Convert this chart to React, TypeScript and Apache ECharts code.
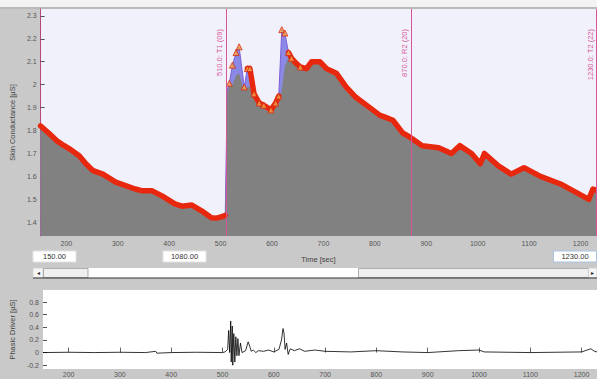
import React, { useEffect, useRef } from "react";
import * as echarts from "echarts";

// Skin conductance (total) samples: [time s, µS]
const scTime = [150, 165, 181, 195, 206, 225, 238, 252, 271, 296, 315, 334, 348, 367, 386, 411, 425, 444, 463, 482, 492, 504, 509,
  513, 517, 523, 530, 536, 542, 546, 552, 557, 565, 575, 584, 598, 607, 613, 619, 625, 632, 638, 646, 655, 667, 677, 693,
  706, 725, 744, 763, 790, 810, 821, 835, 854, 869, 892, 924, 949, 965, 988, 1005, 1013, 1040, 1065, 1090, 1122, 1161, 1193, 1216, 1224, 1230];
const scTotal = [1.82, 1.79, 1.756, 1.735, 1.72, 1.69, 1.655, 1.625, 1.61, 1.575, 1.56, 1.545, 1.537, 1.537, 1.515, 1.48, 1.47, 1.475, 1.45, 1.42, 1.418, 1.425, 1.43,
  1.98, 2.006, 2.085, 2.14, 2.165, 2.06, 1.99, 2.07, 2.07, 1.96, 1.92, 1.91, 1.89, 1.92, 1.95, 2.24, 2.225, 2.14, 2.115, 2.095, 2.077, 2.07, 2.1, 2.1,
  2.07, 2.05, 1.99, 1.945, 1.9, 1.866, 1.857, 1.845, 1.79, 1.77, 1.734, 1.725, 1.7, 1.734, 1.7, 1.655, 1.7, 1.646, 1.61, 1.638, 1.6, 1.567, 1.528, 1.5, 1.545, 1.54];

// Tonic level under the phasic peaks (elsewhere equal to total)
const tonicTime = [513, 517, 523, 530, 536, 542, 546, 552, 557, 565, 575, 584, 598, 607, 613, 619, 625, 632, 638, 646, 655];
const tonicValue = [1.97, 1.99, 2.0, 2.04, 2.05, 2.0, 1.97, 1.99, 1.99, 1.94, 1.91, 1.9, 1.88, 1.9, 1.92, 1.98, 2.08, 2.12, 2.105, 2.09, 2.075];

// Times where the thick red trace is absent (peak outlines only)
const peakOnlyTimes = [513, 517, 523, 530, 536, 542, 546, 619, 625];

// Triangle markers (onsets / peaks)
const triTimes = [517, 523, 530, 536, 546, 552, 557, 565, 575, 584, 598, 607, 613, 619, 625, 632, 638, 655];

// Event markers
const markerTimes = [510, 870, 1230];
const markerNames = ["510.0: T1 (09)", "870.0: R2 (20)", "1230.0: T2 (22)"];

// Phasic driver samples
const drvTime = [150, 200, 250, 300, 350, 370, 372, 400, 450, 500, 505, 510, 512, 514, 516, 517, 519, 520, 522, 524, 526, 528, 530, 532, 535, 538,
  545, 550, 553, 556, 560, 565, 570, 580, 590, 600, 610, 615, 618, 620, 622, 625, 628, 632, 640, 650, 660, 680, 700, 750, 800, 850, 900,
  960, 1000, 1010, 1100, 1200, 1218, 1225, 1230];
const drvValue = [0, 0.005, 0, 0.005, 0, 0.02, -0.01, 0, 0.005, 0, 0.01, 0.05, 0.35, 0.0, 0.5, -0.15, 0.42, -0.2, 0.3, -0.15, 0.25, -0.05, 0.22, -0.05, 0.15, 0,
  0.03, 0.17, 0.1, 0.02, 0.04, 0.0, 0.03, 0.02, 0.04, 0.01, 0.05, 0.2, 0.38, 0.3, 0.05, 0.15, -0.03, 0.06, 0.03, 0.06, 0.02, 0.04, 0.02, 0.01, 0.03, 0.01, 0,
  0.03, 0.04, 0.01, 0, 0.01, 0.06, 0.02, 0.01];

const xTicks = [200, 300, 400, 500, 600, 700, 800, 900, 1000, 1100, 1200];
const scTicks = [1.4, 1.5, 1.6, 1.7, 1.8, 1.9, 2.0, 2.1, 2.2, 2.3];
const drvTicks = [-0.2, 0, 0.2, 0.4, 0.6, 0.8];

const boxLabels = ["150.00", "1080.00", "1230.00"];

const FONT = "Liberation Sans, Arial, sans-serif";
const PINK = "#d9559a";

export default function App() {
  const ref = useRef<HTMLDivElement>(null);
  useEffect(() => {
    const chart = echarts.init(ref.current!, null, { renderer: "svg" });
    const total = scTime.map((t, i) => [t, scTotal[i]]);
    const tonic = scTime.map((t, i) => {
      const k = tonicTime.indexOf(t);
      return [t, k >= 0 ? tonicValue[k] : scTotal[i]];
    });
    const red = scTime.map((t, i) => [t, peakOnlyTimes.indexOf(t) >= 0 ? null : scTotal[i]]);
    const tri = triTimes.map((t) => [t, scTotal[scTime.indexOf(t)]]);
    const drv = drvTime.map((t, i) => [t, drvValue[i]]);
    const fmt = (v: number) => String(Number(v.toFixed(1)));
    const fmtX = (v: number) => String(v);
    const lbl = { fontSize: 7, color: "#555", fontFamily: FONT };

    const option: any = {
      animation: false,
      backgroundColor: "#c9c9c9",
      grid: [
        { left: 33, right: 1, top: 9, bottom: 143, show: true, backgroundColor: "#f1f1fb", borderWidth: 0 },
        { left: 33, right: 0, top: 290, bottom: 10, show: true, backgroundColor: "#ffffff", borderWidth: 0 },
      ],
      xAxis: [
        {
          gridIndex: 0, type: "value", min: 150, max: 1230,
          name: "Time [sec]", nameLocation: "middle", nameGap: 19,
          nameTextStyle: { fontSize: 7.5, color: "#444", fontFamily: FONT },
          axisLine: { show: false }, splitLine: { show: false },
          axisTick: { show: false },
          axisLabel: { ...lbl, margin: 4, customValues: xTicks, formatter: fmtX },
        },
        {
          gridIndex: 1, type: "value", min: 150, max: 1230,
          axisLine: { show: false }, splitLine: { show: false },
          axisTick: { show: true, inside: true, length: 5, lineStyle: { color: "#666" }, customValues: xTicks },
          axisLabel: { ...lbl, margin: 2, customValues: xTicks, formatter: fmtX },
        },
      ],
      yAxis: [
        {
          gridIndex: 0, type: "value", min: 1.34, max: 2.33,
          name: "Skin Conductance [\u00b5S]", nameLocation: "middle", nameGap: 17,
          nameTextStyle: { fontSize: 7.5, color: "#444", fontFamily: FONT },
          axisLine: { show: true, lineStyle: { color: "#b8487c", width: 1 } },
          splitLine: { show: false },
          axisTick: { show: true, inside: true, length: 4, lineStyle: { color: "#555" }, customValues: scTicks },
          axisLabel: { ...lbl, margin: 4, customValues: scTicks, formatter: fmt },
        },
        {
          gridIndex: 1, type: "value", min: -0.26, max: 0.99,
          name: "Phasic Driver [\u00b5S]", nameLocation: "middle", nameGap: 19,
          nameTextStyle: { fontSize: 7.5, color: "#444", fontFamily: FONT },
          axisLine: { show: false }, splitLine: { show: false },
          axisTick: { show: true, inside: true, length: 4, lineStyle: { color: "#555" }, customValues: drvTicks },
          axisLabel: { ...lbl, margin: 4, customValues: drvTicks, formatter: fmt },
        },
      ],
      series: [
        {
          type: "line", xAxisIndex: 0, yAxisIndex: 0, data: total, symbol: "none", z: 2,
          lineStyle: { color: "#7d5fd8", width: 1 },
          areaStyle: { color: "#8a8ae6", origin: "start", opacity: 1 },
        },
        {
          type: "line", xAxisIndex: 0, yAxisIndex: 0, data: tonic, symbol: "none", z: 3,
          lineStyle: { width: 0 },
          areaStyle: { color: "#818181", origin: "start", opacity: 1 },
        },
        {
          type: "line", xAxisIndex: 0, yAxisIndex: 0, data: red, symbol: "none", z: 4,
          connectNulls: false,
          lineStyle: { color: "#e8280e", width: 5.5, cap: "round", join: "round" },
          markLine: {
            silent: true, symbol: "none", z: 10,
            lineStyle: { color: PINK, width: 1, type: "solid" },
            label: {
              show: true, position: "insideEndTop", formatter: "{b}", color: PINK,
              fontSize: 7.5, fontFamily: FONT, distance: [16, 2], padding: [0, 4, 0, 0],
            },
            data: markerTimes.map((t, i) => ({ xAxis: t, name: markerNames[i] })),
          },
        },
        {
          type: "scatter", xAxisIndex: 0, yAxisIndex: 0, data: tri, symbol: "triangle", symbolSize: 6, z: 5,
          itemStyle: { color: "#f2a24a", borderColor: "#d42a10", borderWidth: 1 },
        },
        {
          type: "line", xAxisIndex: 1, yAxisIndex: 1, data: drv, symbol: "none",
          lineStyle: { color: "#000", width: 0.8 },
        },
      ],
      graphic: [
        { type: "rect", shape: { x: 0, y: 0, width: 597, height: 7 }, style: { fill: "#f3f3f3" }, silent: true },
        { type: "rect", shape: { x: 0, y: 7, width: 597, height: 2 }, style: { fill: "#b9b9b9" }, silent: true },
        // value boxes
        { type: "rect", shape: { x: 33, y: 251, width: 43, height: 11 }, style: { fill: "#fff", stroke: "#e2e2e2" } },
        { type: "text", x: 54.5, y: 256.5, style: { text: boxLabels[0], fontSize: 7.5, fill: "#333", fontFamily: FONT, align: "center", verticalAlign: "middle" } },
        { type: "rect", shape: { x: 163, y: 251, width: 43, height: 11 }, style: { fill: "#fff", stroke: "#e2e2e2" } },
        { type: "text", x: 184.5, y: 256.5, style: { text: boxLabels[1], fontSize: 7.5, fill: "#333", fontFamily: FONT, align: "center", verticalAlign: "middle" } },
        { type: "rect", shape: { x: 553.5, y: 251, width: 43, height: 11 }, style: { fill: "#fff", stroke: "#a9c4e4" } },
        { type: "text", x: 575, y: 256.5, style: { text: boxLabels[2], fontSize: 7.5, fill: "#333", fontFamily: FONT, align: "center", verticalAlign: "middle" } },
        // scrollbar
        { type: "rect", shape: { x: 33, y: 268, width: 564, height: 10 }, style: { fill: "#ffffff" } },
        { type: "rect", shape: { x: 33, y: 268, width: 10, height: 10 }, style: { fill: "#f6f6f6", stroke: "#d0d0d0" } },
        { type: "text", x: 38, y: 273, style: { text: "\u25c2", fontSize: 6, fill: "#222", align: "center", verticalAlign: "middle" } },
        { type: "rect", shape: { x: 43.5, y: 268.5, width: 44.5, height: 9 }, style: { fill: "#efefef", stroke: "#9a9a9a", lineWidth: 0.8 } },
        { type: "rect", shape: { x: 358.5, y: 268.5, width: 230, height: 9 }, style: { fill: "#efefef", stroke: "#9a9a9a", lineWidth: 0.8 } },
        { type: "rect", shape: { x: 588.5, y: 268, width: 8.5, height: 10 }, style: { fill: "#f6f6f6", stroke: "#d0d0d0" } },
        { type: "text", x: 592.5, y: 273, style: { text: "\u25b8", fontSize: 6, fill: "#222", align: "center", verticalAlign: "middle" } },
        { type: "line", shape: { x1: 33, y1: 278, x2: 597, y2: 278 }, style: { stroke: "#333", lineWidth: 1 } },
      ],
    };
    chart.setOption(option);
    return () => chart.dispose();
  }, []);
  return <div ref={ref} style={{ position: "fixed", left: 0, top: 0, width: 597, height: 379 }} />;
}
